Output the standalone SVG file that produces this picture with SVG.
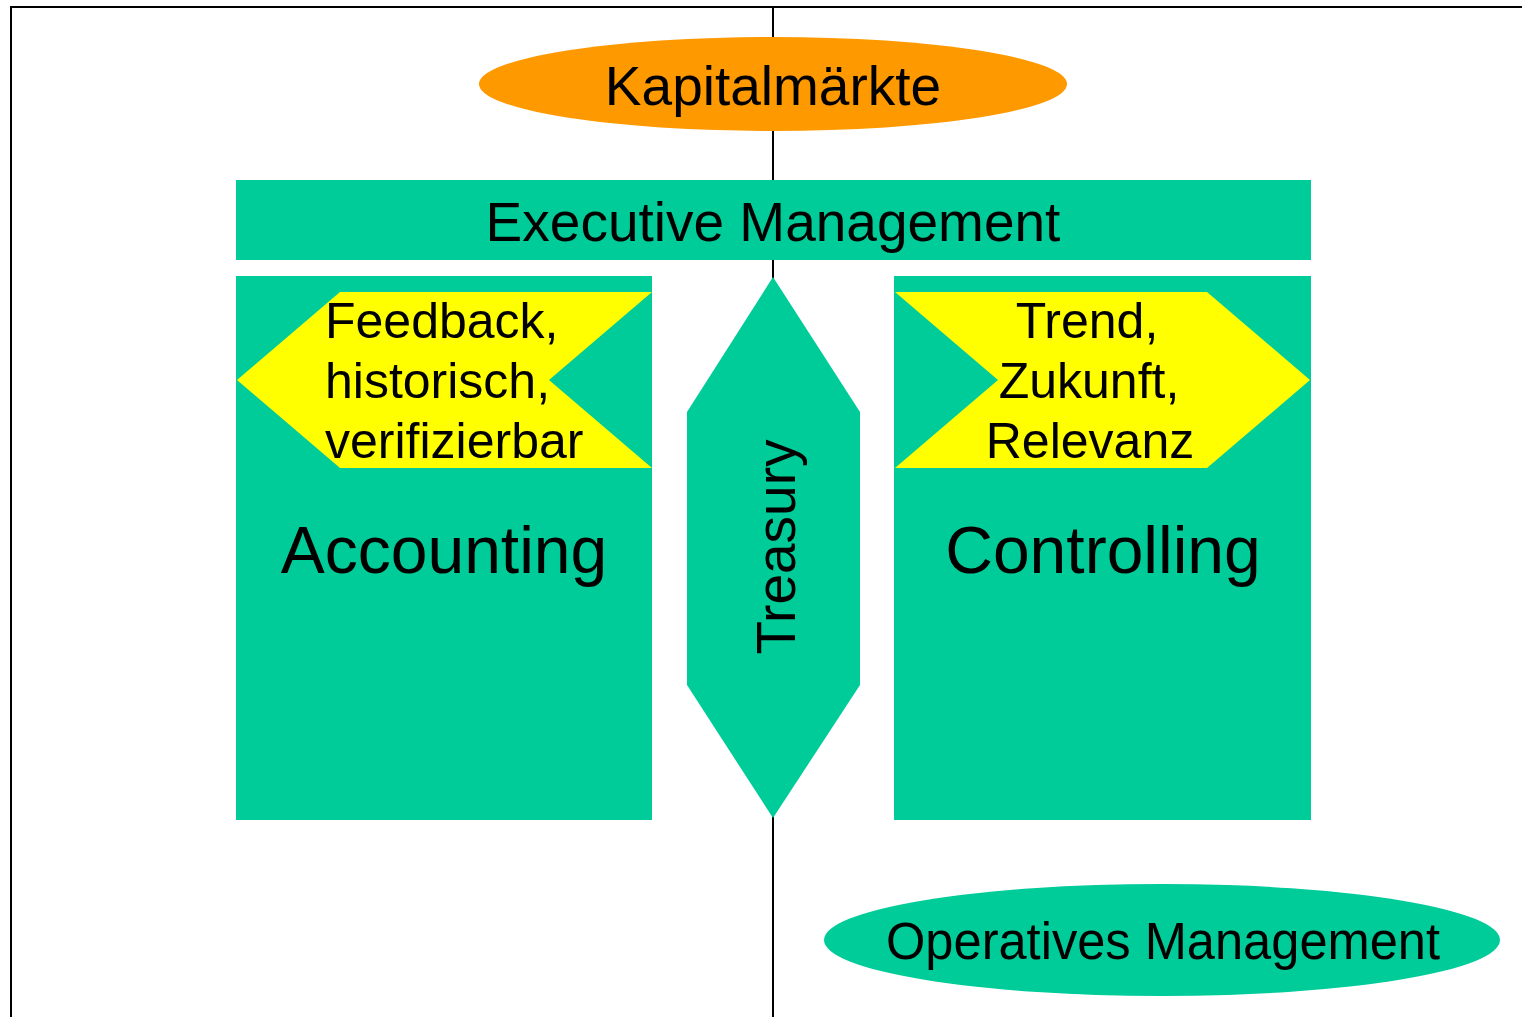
<svg xmlns="http://www.w3.org/2000/svg" width="1522" height="1017" viewBox="0 0 1522 1017">
<style>
text{font-family:"Liberation Sans",Arial,sans-serif;fill:#000}
.g{fill:#00CC99}
.y{fill:#FFFF00}
.c{text-anchor:middle}
</style>
<rect x="0" y="0" width="1522" height="1017" fill="#fff"/>
<rect x="11" y="7" width="1600" height="1100" fill="none" stroke="#000" stroke-width="2"/>
<g id="connectors">
<line x1="773" y1="7" x2="773" y2="1017" stroke="#000" stroke-width="2"/>
</g>
<g id="kapitalmaerkte">
<ellipse cx="773" cy="84" rx="294" ry="47" fill="#FF9900"/>
<text x="773" y="105" class="c" font-size="55">Kapitalmärkte</text>
</g>
<g id="executive">
<rect x="236" y="180" width="1075" height="80" class="g"/>
<text x="773" y="241" class="c" font-size="55">Executive Management</text>
</g>
<g id="accounting">
<rect x="236" y="276" width="416" height="544" class="g"/>
<polygon points="237,380 340,292 652,292 549,380 652,468 340,468" class="y"/>
<text x="325" y="338" font-size="50">Feedback,</text>
<text x="325" y="398" font-size="50">historisch,</text>
<text x="325" y="458" font-size="50">verifizierbar</text>
<text x="444" y="573" class="c" font-size="66">Accounting</text>
</g>
<g id="treasury">
<polygon points="773,277 860,412 860,685 773,818 687,685 687,412" class="g"/>
<text transform="translate(795,547) rotate(-90)" class="c" font-size="55">Treasury</text>
</g>
<g id="controlling">
<rect x="894" y="276" width="417" height="544" class="g"/>
<polygon points="895,292 1207,292 1310,380 1207,468 895,468 998,380" class="y"/>
<text x="1087" y="338" class="c" font-size="50">Trend,</text>
<text x="1089" y="398" class="c" font-size="50">Zukunft,</text>
<text x="1090" y="458" class="c" font-size="50">Relevanz</text>
<text x="1103" y="573" class="c" font-size="66">Controlling</text>
</g>
<g id="operatives">
<ellipse cx="1162" cy="940" rx="338" ry="56" class="g"/>
<text x="1163" y="959" class="c" font-size="51" textLength="554" lengthAdjust="spacingAndGlyphs">Operatives Management</text>
</g>
</svg>
